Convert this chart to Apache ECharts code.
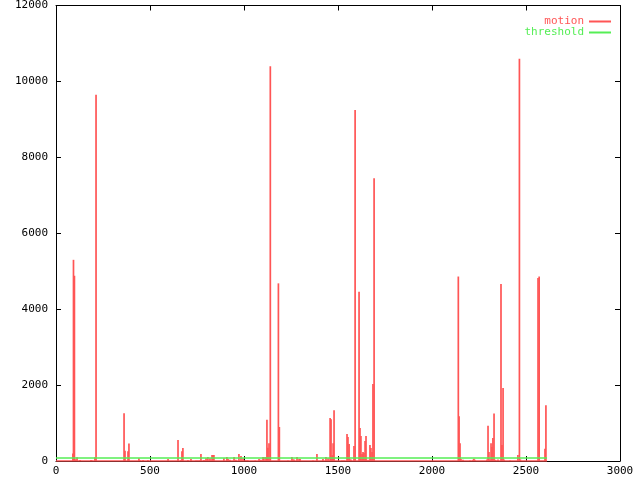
<!DOCTYPE html>
<html>
<head>
<meta charset="utf-8">
<script src="https://cdn.jsdelivr.net/npm/echarts@6/dist/echarts.min.js"></script>
<style>html,body{margin:0;padding:0;background:#fff}#c{width:640px;height:480px}</style>
</head>
<body>
<div id="c"></div>
<script>
var xTicks = [0, 500, 1000, 1500, 2000, 2500, 3000];
var yTicks = [0, 2000, 4000, 6000, 8000, 10000, 12000];
var seriesNames = ['motion', 'threshold'];
var dataEnd = 2612;
var thresholdValue = 80;
var motionX = [
  90, 93, 98, 101, 106, 112, 128, 186, 190, 207, 213, 362, 367, 383, 388, 441, 446, 463, 489, 596,
  649, 665, 670, 675, 702, 718, 745, 755, 765, 771, 787, 798, 808, 819, 830, 835, 840, 893, 909, 915,
  925, 947, 957, 973, 984, 995, 1010, 1020, 1059, 1080, 1090, 1101, 1106, 1117, 1122, 1127, 1133, 1140, 1183, 1188,
  1234, 1255, 1261, 1266, 1282, 1293, 1298, 1367, 1388, 1420, 1436, 1447, 1458, 1463, 1469, 1474, 1479,
  1521, 1532, 1548, 1553, 1559, 1564, 1569, 1585, 1591, 1612, 1617, 1622, 1628, 1633, 1638, 1644, 1649,
  1654, 1665, 1670, 1675, 1681, 1686, 1692,
  2140, 2144, 2149, 2154, 2165, 2202, 2218, 2223, 2228, 2292, 2298, 2303, 2308, 2314, 2319, 2324, 2330, 2335, 2340, 2351,
  2367, 2372, 2378, 2383, 2415, 2457, 2465, 2470, 2564, 2570, 2601, 2606
];
var motionY = [
  200, 5300, 4880, 40, 40, 100, 25, 25, 20, 100, 9650, 1260, 270, 260, 460, 70, 25, 25, 25, 50,
  550, 25, 260, 340, 25, 50, 15, 15, 15, 185, 25, 70, 105, 70, 160, 160, 160, 70, 105, 50,
  30, 105, 30, 185, 130, 70, 20, 20, 15, 50, 30, 105, 105, 105, 1090, 350, 470, 10400, 4680, 895,
  15, 105, 40, 40, 105, 50, 50, 15, 185, 50, 105, 70, 1130, 1100, 150, 470, 1340,
  15, 15, 710, 630, 445, 40, 40, 395, 9250, 4460, 870, 660, 185, 240, 210, 526, 658,
  30, 30, 420, 340, 240, 2030, 7450,
  4860, 1180, 470, 50, 30, 15, 30, 60, 30, 40, 930, 240, 30, 470, 370, 605, 1250, 30, 15, 40,
  4660, 420, 1920, 40, 15, 160, 10600, 40, 4820, 4860, 320, 1470
];

var RED = '#ff5555', GREEN = '#55ee55';
var FONT = 'DejaVu Sans Mono';

var motionData = motionX.map(function (x, i) { return [x, motionY[i]]; });
var plain = function (v) { return String(v); };

var chart = echarts.init(document.getElementById('c'), null, {renderer: 'canvas'});
var axisCommon = {
  type: 'value',
  splitLine: {show: false},
  axisLine: {show: true, onZero: false, lineStyle: {color: '#000', width: 1}},
  axisTick: {show: true, inside: true, length: 5, lineStyle: {color: '#000'}}
};
var legendIcon = 'path://M0,0H22V2H0Z';
chart.setOption({
  animation: false,
  backgroundColor: '#fff',
  grid: {left: 56, right: 20, top: 5, bottom: 19, containLabel: false},
  legend: {
    orient: 'vertical', right: 29, top: 16, align: 'right', itemGap: 0,
    itemWidth: 22, itemHeight: 2, padding: 0,
    textStyle: {fontFamily: FONT, fontSize: 11},
    data: [
      {name: seriesNames[0], icon: legendIcon, textStyle: {color: RED}, itemStyle: {color: RED}},
      {name: seriesNames[1], icon: legendIcon, textStyle: {color: GREEN}, itemStyle: {color: GREEN}}
    ]
  },
  xAxis: [
    Object.assign({}, axisCommon, {
      position: 'bottom', min: xTicks[0], max: xTicks[xTicks.length - 1], interval: 500,
      axisLabel: {fontFamily: FONT, fontSize: 11, color: '#000', margin: 5, formatter: plain}
    }),
    Object.assign({}, axisCommon, {
      position: 'top', min: xTicks[0], max: xTicks[xTicks.length - 1], interval: 500,
      axisLabel: {show: false}
    })
  ],
  yAxis: [
    Object.assign({}, axisCommon, {
      position: 'left', min: yTicks[0], max: yTicks[yTicks.length - 1], interval: 2000,
      axisLabel: {fontFamily: FONT, fontSize: 11, color: '#000', margin: 8, formatter: plain}
    }),
    Object.assign({}, axisCommon, {
      position: 'right', min: yTicks[0], max: yTicks[yTicks.length - 1], interval: 2000,
      axisLabel: {show: false}
    })
  ],
  series: [
    {
      name: seriesNames[0], type: 'bar', xAxisIndex: 0, yAxisIndex: 0,
      data: motionData, barWidth: 1.7, itemStyle: {color: RED}, z: 3
    },
    {
      name: seriesNames[0], type: 'line', xAxisIndex: 0, yAxisIndex: 0,
      data: [[0, 0], [dataEnd, 0]], symbol: 'none',
      lineStyle: {color: RED, width: 1.5}, itemStyle: {color: RED}, z: 4
    },
    {
      name: seriesNames[1], type: 'line', xAxisIndex: 0, yAxisIndex: 0,
      data: [[0, thresholdValue], [dataEnd, thresholdValue]], symbol: 'none',
      lineStyle: {color: GREEN, width: 1.5}, itemStyle: {color: GREEN}, z: 5
    }
  ]
});
</script>
</body>
</html>
